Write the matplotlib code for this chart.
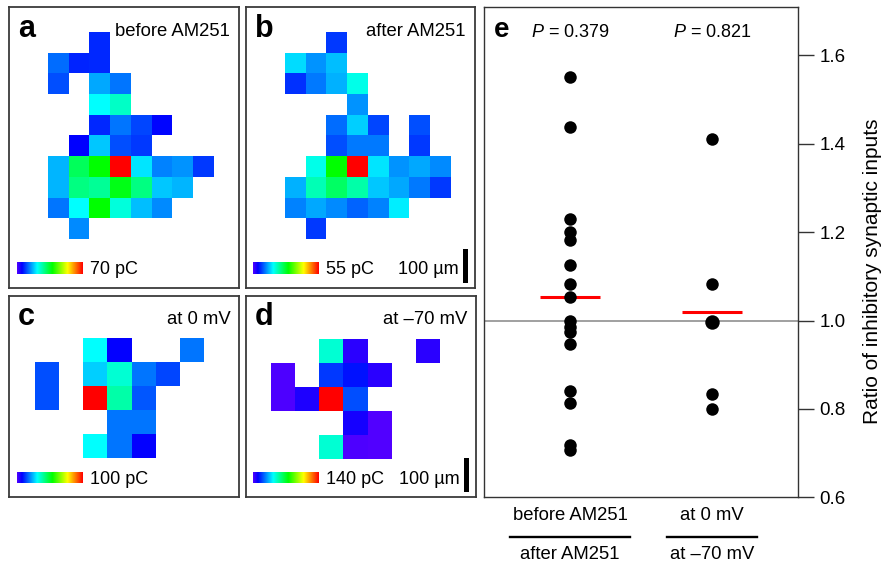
import numpy as np
import matplotlib
matplotlib.use("Agg")
import matplotlib.pyplot as plt
from matplotlib.colors import ListedColormap, hsv_to_rgb

plt.rcParams["font.family"] = ["Liberation Sans", "DejaVu Sans"]
plt.rcParams["mathtext.fontset"] = "custom"
plt.rcParams["mathtext.it"] = "Liberation Sans:italic"
plt.rcParams["mathtext.rm"] = "Liberation Sans"

nan = np.nan

# ── Data ─────────────────────────────────────────────────────────────────────
# charge per stimulation site (pC), NaN = no response
map_before = [
    [nan, nan, 7.7, nan, nan, nan, nan, nan],
    [12.2, 7.5, 7.7, nan, nan, nan, nan, nan],
    [10.3, nan, 16.0, 12.8, nan, nan, nan, nan],
    [nan, nan, 21.4, 24.9, nan, nan, nan, nan],
    [nan, nan, 7.7, 12.8, 9.7, 5.5, nan, nan],
    [nan, 5.2, 17.9, 10.3, 9.0, nan, nan, nan],
    [16.7, 31.9, 37.6, 70.0, 19.8, 13.4, 14.7, 9.0],
    [16.7, 29.3, 28.1, 36.3, 29.3, 17.9, 16.7, nan],
    [12.8, 21.4, 37.6, 23.6, 17.3, 14.1, nan, nan],
    [nan, 14.1, nan, nan, nan, nan, nan, nan],
]
map_after = [
    [nan, nan, 7.0, nan, nan, nan, nan, nan],
    [15.1, 11.6, 13.6, nan, nan, nan, nan, nan],
    [6.6, 10.1, 13.1, 18.0, nan, nan, nan, nan],
    [nan, nan, nan, 11.6, nan, nan, nan, nan],
    [nan, nan, 9.6, 14.6, 7.6, nan, 8.1, nan],
    [nan, nan, 8.1, 10.1, 10.1, nan, 7.0, nan],
    [nan, 18.0, 29.5, 55.0, 15.6, 11.6, 12.5, 11.1],
    [13.1, 20.5, 24.5, 21.1, 14.1, 12.5, 10.1, 7.0],
    [10.6, 12.5, 11.1, 9.1, 10.6, 16.1, nan, nan],
    [nan, 7.0, nan, nan, nan, nan, nan, nan],
]
map_0mv = [
    [nan, nan, 30.6, 7.4, nan, nan, 18.3],
    [14.7, nan, 26.5, 34.6, 18.3, 13.8, nan],
    [14.7, nan, 100.0, 38.3, 15.6, nan, nan],
    [nan, nan, nan, 18.3, 18.3, nan, nan],
    [nan, nan, 30.6, 18.3, 7.4, nan, nan],
]
map_70mv = [
    [nan, nan, 48.5, 5.3, nan, nan, 5.3],
    [1.0, nan, 17.9, 12.9, 5.3, nan, nan],
    [1.0, 6.6, 140.0, 20.6, nan, nan, nan],
    [nan, nan, nan, 7.8, 0.0, nan, nan],
    [nan, nan, 48.5, 1.0, 0.0, nan, nan],
]
scale_pc = [70, 55, 100, 140]
panel_letters = ["a", "b", "c", "d"]
panel_titles = ["before AM251", "after AM251", "at 0 mV", "at \u201370 mV"]
has_scalebar = [False, True, False, True]

ratio_am251 = [1.551, 1.439, 1.229, 1.201, 1.183, 1.126, 1.083, 1.053,
               0.998, 0.986, 0.975, 0.947, 0.841, 0.813, 0.719, 0.708]
ratio_voltage = [1.410, 1.083, 0.996, 0.996, 0.833, 0.800]
p_values = [0.379, 0.821]
cat_top = ["before AM251", "at 0 mV"]
cat_bottom = ["after AM251", "at \u201370 mV"]
y_ticks = [0.6, 0.8, 1.0, 1.2, 1.4, 1.6]

# ── Layout (pixels) ──────────────────────────────────────────────────────────
W, H = 883, 563
boxes = [(9, 7.3, 239.3, 287.7), (245.7, 7.3, 475, 287.7),
         (9, 295.7, 239.3, 497.3), (245.7, 295.7, 476, 497.3)]
cell_px = [20.7, 20.7, 24.0, 24.0]
grid_off = [(1.887, 1.21), (1.887, 1.21), (1.096, 1.75), (1.07, 1.80)]

fig = plt.figure(figsize=(W / 100, H / 100), dpi=100)


def px_axes(x0, y0, x1, y1):
    return fig.add_axes([x0 / W, 1 - y1 / H, (x1 - x0) / W, (y1 - y0) / H])


def ftext(x, y, s, **kw):
    return fig.text(x / W, 1 - y / H, s, **kw)


hues = np.linspace(0.72, 0.0, 256)
cmap = ListedColormap(hsv_to_rgb(np.stack([hues, np.ones(256), np.ones(256)], axis=1)))
cmap.set_bad("white")

maps = [map_before, map_after, map_0mv, map_70mv]
border = "#3a3a3a"

for k, m in enumerate(maps):
    x0, y0, x1, y1 = boxes[k]
    c = cell_px[k]
    ox, oy = grid_off[k]
    arr = np.ma.masked_invalid(np.array(m, dtype=float))
    nrow, ncol = arr.shape
    ax = px_axes(x0, y0, x1, y1)
    ax.imshow(arr, cmap=cmap, vmin=0, vmax=scale_pc[k], interpolation="nearest",
              extent=(ox, ox + ncol, oy + nrow, oy), aspect="auto")
    ax.set_xlim(0, (x1 - x0) / c)
    ax.set_ylim((y1 - y0) / c, 0)
    ax.set_xticks([])
    ax.set_yticks([])
    for sp in ax.spines.values():
        sp.set_color(border)
        sp.set_linewidth(1.3)

    ftext(x0 + 9, y0 + 29.5, panel_letters[k], fontsize=22, fontweight="bold",
          va="baseline", ha="left")
    ftext(x1 - 9, y0 + 28.3, panel_titles[k], fontsize=13.3, va="baseline", ha="right")

    # colour scale
    cb_x0, cb_y1 = x0 + 7.5, y1 - 14
    cax = px_axes(cb_x0, cb_y1 - 11.6, cb_x0 + 65.5, cb_y1)
    cax.imshow(np.linspace(0, 1, 256)[None, :], cmap=cmap, aspect="auto")
    cax.axis("off")
    cy = cb_y1 - 5.8
    ftext(cb_x0 + 65.5 + 7.5, cy, f"{scale_pc[k]} pC", fontsize=13,
          va="center_baseline", ha="left")
    if has_scalebar[k]:
        sb_x = x1 - 12
        ftext(sb_x - 4, cy, "100 \u00b5m", fontsize=13, va="center_baseline", ha="right")
        sax = px_axes(sb_x, y1 - 5 - 34, sb_x + 5, y1 - 5)
        sax.set_facecolor("black")
        sax.set_xticks([])
        sax.set_yticks([])
        for sp in sax.spines.values():
            sp.set_visible(False)

# ── Panel e ──────────────────────────────────────────────────────────────────
ax = px_axes(484, 7.3, 797.7, 497.3)
groups = [ratio_am251, ratio_voltage]
for i, vals in enumerate(groups):
    uniq, counts = np.unique(np.round(vals, 3), return_counts=True)
    for v, n in zip(uniq, counts):
        ax.plot(i, v, "o", color="black", ms=9 + 1.4 * (n - 1), mec="none", zorder=3)
    ax.hlines(np.mean(vals), i - 0.211, i + 0.211, color="#ff0000", lw=2.2, zorder=2)
ax.axhline(1.0, color="#a0a0a0", lw=1.4, zorder=1)
ax.set_xlim(-0.606, 1.604)
ax.set_ylim(0.6, 1.709)
ax.yaxis.tick_right()
ax.set_yticks(y_ticks)
ax.set_yticklabels([f"{t:.1f}" for t in y_ticks])
ax.tick_params(axis="y", direction="out", length=11.5, width=1, pad=4,
               labelsize=13.5, color="#333333")
ax.set_xticks([])
for sp in ax.spines.values():
    sp.set_color("#333333")
    sp.set_linewidth(1.0)

ax.text(0.033, 0.94, "e", transform=ax.transAxes, fontsize=20, fontweight="bold",
        va="baseline", ha="left")
for i, p in enumerate(p_values):
    ax.text(i, 0.94, f"$P$ = {p:.3f}", transform=ax.get_xaxis_transform(),
            fontsize=13, va="baseline", ha="center")

ax.text(1.24, 0.462, "Ratio of inhibitory synaptic inputs", transform=ax.transAxes,
        rotation=90, fontsize=15, va="center", ha="center")

trans = ax.get_xaxis_transform()
half_w = [0.42, 0.317]
for i in range(2):
    ax.text(i, -0.0463, cat_top[i], transform=trans, fontsize=13.3,
            va="baseline", ha="center")
    ax.text(i, -0.1265, cat_bottom[i], transform=trans, fontsize=13.3,
            va="baseline", ha="center")
    ax.plot([i - half_w[i], i + half_w[i]], [-0.0804, -0.0804], transform=trans,
            color="black", lw=1.7, clip_on=False)

fig.savefig("out.png", dpi=100)
